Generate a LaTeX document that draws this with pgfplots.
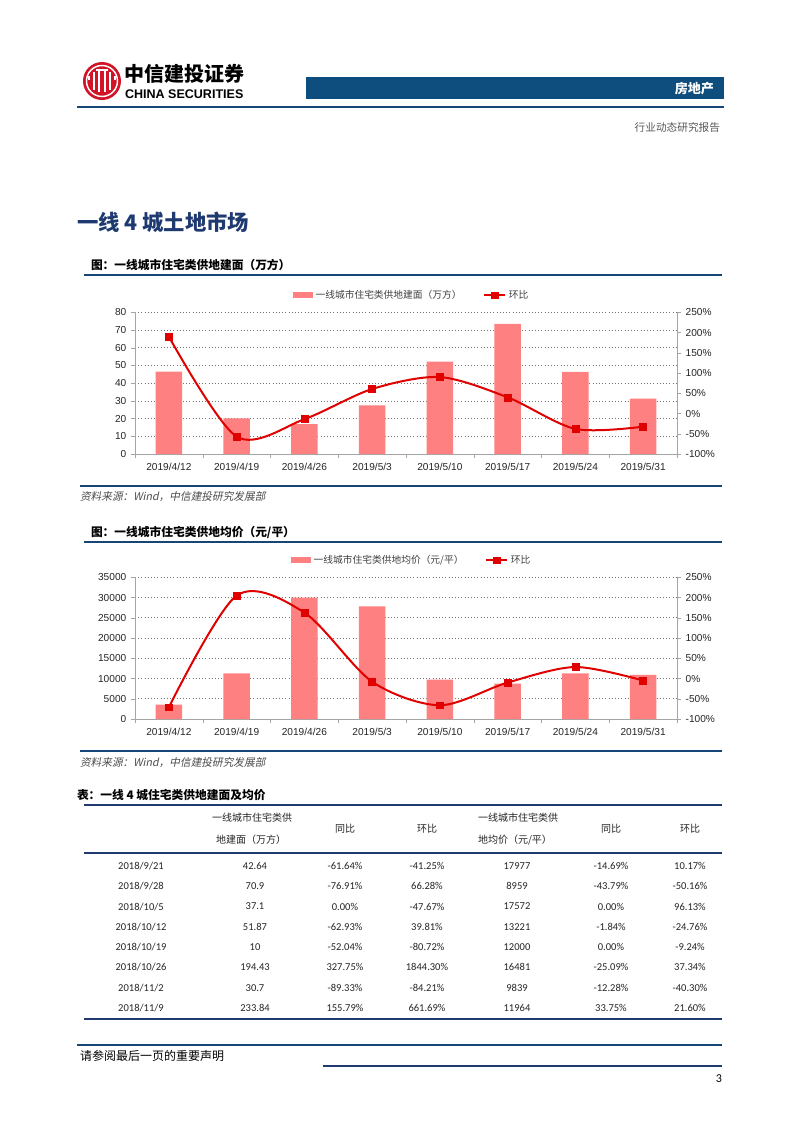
\documentclass[border=0pt]{standalone}
\usepackage{pgfplots}
\pgfplotsset{compat=1.18}
\usepackage{fontspec}
\setmainfont{Liberation Sans}
\newfontfamily\cjk{Noto Sans CJK SC}
\newfontfamily\cjkit[FakeSlant=0.2]{Noto Sans CJK SC}
\newfontfamily\carl{Carlito}
\definecolor{navy}{RGB}{30,58,112}
\definecolor{hdrblue}{RGB}{14,78,126}
\definecolor{rulebl}{RGB}{22,70,120}
\definecolor{barc}{RGB}{255,128,128}
\definecolor{linec}{RGB}{225,0,0}
\definecolor{axgray}{RGB}{165,165,165}
\definecolor{logored}{RGB}{210,20,40}
\pgfplotsset{
  pagechart/.style={
    scale only axis, width=406.5pt, height=106.3pt,
    xmin=-0.5, xmax=7.5,
    axis line style={draw=axgray},
    tick style={draw=axgray},
    tick align=outside,
    major tick length=3pt, minor tick length=3pt,
    ticklabel style={font=\fontsize{7.6}{9}\selectfont, text=black!85},
    scaled y ticks=false,
    /pgf/number format/assume math mode=true,
    /pgf/number format/1000 sep={},
  },
  leftchart/.style={
    pagechart, ybar, bar width=20pt,
    axis y line*=left, axis x line*=bottom,
    ymajorgrids, grid style={draw=black!55, dotted, line width=0.5pt},
    xtick={0,...,7},
    xticklabels={2019/4/12,2019/4/19,2019/4/26,2019/5/3,2019/5/10,2019/5/17,2019/5/24,2019/5/31},
    major x tick style={draw=none},
    minor xtick={-0.5,0.5,...,7.5},
    legend style={at={(0.5,1)}, anchor=center, xshift=4.5pt, yshift=12.75pt, draw=none, fill=none,
      legend columns=2, font=\cjk\fontsize{7.3}{8}\selectfont, text=black!75,
      /tikz/every even column/.append style={column sep=14pt}},
  },
  rightchart/.style={
    pagechart, ymin=-100, ymax=250, ytick distance=50,
    axis y line*=right, axis x line=none, xtick=\empty,
    yticklabel={\pgfmathprintnumber{\tick}\%},
  },
  barleg/.style={legend image code/.code={\fill[barc] (0pt,-2.4pt) rectangle (15pt,2.4pt);}},
  lineleg/.style={legend image code/.code={\draw[linec,line width=1.5pt] (0pt,0pt) -- (16pt,0pt);\fill[linec] (5.5pt,-2.6pt) rectangle (10.5pt,2.6pt);}},
}
\newcommand{\trow}[8]{%
  \node[t] at (141,#1) {#2};
  \node[t] at (255,#1) {#3};
  \node[t] at (345,#1) {#4};
  \node[t] at (427,#1) {#5};
  \node[t] at (517,#1) {#6};
  \node[t] at (611,#1) {#7};
  \node[t] at (690,#1) {#8};
}
\begin{document}
\begin{tikzpicture}[x=0.75pt,y=-0.75pt, t/.style={inner sep=0pt, outer sep=0pt}]
\fill[white] (0,0) rectangle (802,1133);

% ---------- header ----------
\fill[logored] (102,81) circle (19);
\draw[white, line width=1.1pt] (102,81) circle (15.5);
\begin{scope}[white, line width=1.6pt]
  \draw (94,72) -- (94,90);
  \draw (110,72) -- (110,90);
  \draw (99,70) -- (99,92);
  \draw (105,70) -- (105,92);
  \draw (89,76) arc (200:160:6);
  \draw (115,76) arc (-20:20:6);
  \draw (96,70) -- (108,70);
\end{scope}
\node[t, anchor=west, font=\cjk\bfseries\fontsize{15}{16}\selectfont] at (124,74) {中信建投证券};
\node[t, anchor=west, font=\bfseries\fontsize{9.4}{10}\selectfont] at (125,94) {CHINA SECURITIES};
\fill[hdrblue] (306,77) rectangle (724,99);
\node[t, anchor=east, text=white, font=\cjk\bfseries\fontsize{9.8}{10}\selectfont] at (714,89) {房地产};
\draw[rulebl, line width=1.1pt] (77,107) -- (724,107);
\node[t, anchor=east, text=black!65, font=\cjk\fontsize{8}{9}\selectfont] at (720,127) {行业动态研究报告};

% ---------- title ----------
\node[t, anchor=west, text=navy, font=\cjk\bfseries\fontsize{16}{18}\selectfont] at (77,222) {一线 4 城土地市场};

% ---------- chart 1 ----------
\node[t, anchor=west, font=\cjk\bfseries\fontsize{8.8}{10}\selectfont] at (91,265) {图：一线城市住宅类供地建面（万方）};
\draw[rulebl, line width=1.5pt] (84,275) -- (722,275);

\begin{axis}[leftchart, at={(101.25pt,-340.5pt)}, anchor=south west,
  ymin=0, ymax=80, ytick distance=10]
\addplot[fill=barc, draw=none, barleg] coordinates {
  (0,46.5) (1,20.1) (2,16.9) (3,27.5) (4,52.2) (5,73.4) (6,46.3) (7,31.3)};
\addlegendentry{一线城市住宅类供地建面（万方）}
\addlegendimage{lineleg}
\addlegendentry{环比}
\end{axis}
\begin{axis}[rightchart, at={(101.25pt,-340.5pt)}, anchor=south west]
\addplot[linec, line width=1.5pt, smooth, mark=square*, mark size=2.6pt,
  mark options={fill=linec, draw=linec, line width=0.4pt}] coordinates {
  (0,190) (1,-57) (2,-14) (3,60.5) (4,90) (5,40) (6,-38) (7,-32.5)};
\end{axis}

\draw[rulebl, line width=1.1pt] (80,486) -- (722,486);
\node[t, anchor=west, text=black!70, font=\cjkit\fontsize{8}{9}\selectfont] at (80,497) {资料来源：Wind，中信建投研究发展部};

% ---------- chart 2 ----------
\node[t, anchor=west, font=\cjk\bfseries\fontsize{8.8}{10}\selectfont] at (91,532) {图：一线城市住宅类供地均价（元/平）};
\draw[rulebl, line width=1.5pt] (84,542) -- (722,542);

\begin{axis}[leftchart, at={(101.25pt,-539.25pt)}, anchor=south west,
  ymin=0, ymax=35000, ytick distance=5000]
\addplot[fill=barc, draw=none, barleg] coordinates {
  (0,3540) (1,11300) (2,29980) (3,27840) (4,9720) (5,8730) (6,11300) (7,10870)};
\addlegendentry{一线城市住宅类供地均价（元/平）}
\addlegendimage{lineleg}
\addlegendentry{环比}
\end{axis}
\begin{axis}[rightchart, at={(101.25pt,-539.25pt)}, anchor=south west]
\addplot[linec, line width=1.5pt, smooth, mark=square*, mark size=2.6pt,
  mark options={fill=linec, draw=linec, line width=0.4pt}] coordinates {
  (0,-71) (1,204.7) (2,162.7) (3,-7.8) (4,-66) (5,-10) (6,28.4) (7,-5)};
\end{axis}

\draw[rulebl, line width=1.1pt] (80,751) -- (722,751);
\node[t, anchor=west, text=black!70, font=\cjkit\fontsize{8}{9}\selectfont] at (80,763) {资料来源：Wind，中信建投研究发展部};

% ---------- table ----------
\node[t, anchor=west, font=\cjk\bfseries\fontsize{8.8}{10}\selectfont] at (77,795) {表：一线 4 城住宅类供地建面及均价};
\draw[navy, line width=1.8pt] (84,805) -- (722,805);
\begin{scope}[font=\cjk\fontsize{7.5}{9}\selectfont, text=black!85]
  \node[t, anchor=west] at (212,818) {一线城市住宅类供};
  \node[t, anchor=west] at (216,840) {地建面（万方）};
  \node[t] at (345,829) {同比};
  \node[t] at (427,829) {环比};
  \node[t, anchor=west] at (478,818) {一线城市住宅类供};
  \node[t, anchor=west] at (478,840) {地均价（元/平）};
  \node[t] at (611,829) {同比};
  \node[t] at (690,829) {环比};
\end{scope}
\draw[navy, line width=1.8pt] (84,853) -- (722,853);
\begin{scope}[font=\carl\fontsize{7.9}{9}\selectfont, text=black!85]
  \trow{866}{2018/9/21}{42.64}{-61.64\%}{-41.25\%}{17977}{-14.69\%}{10.17\%}
  \trow{886.3}{2018/9/28}{70.9}{-76.91\%}{66.28\%}{8959}{-43.79\%}{-50.16\%}
  \trow{906.6}{2018/10/5}{37.1}{0.00\%}{-47.67\%}{17572}{0.00\%}{96.13\%}
  \trow{926.9}{2018/10/12}{51.87}{-62.93\%}{39.81\%}{13221}{-1.84\%}{-24.76\%}
  \trow{947.1}{2018/10/19}{10}{-52.04\%}{-80.72\%}{12000}{0.00\%}{-9.24\%}
  \trow{967.4}{2018/10/26}{194.43}{327.75\%}{1844.30\%}{16481}{-25.09\%}{37.34\%}
  \trow{987.7}{2018/11/2}{30.7}{-89.33\%}{-84.21\%}{9839}{-12.28\%}{-40.30\%}
  \trow{1008}{2018/11/9}{233.84}{155.79\%}{661.69\%}{11964}{33.75\%}{21.60\%}
\end{scope}
\draw[navy, line width=1.8pt] (84,1019) -- (722,1019);

% ---------- footer ----------
\draw[rulebl, line width=0.8pt] (77,1045) -- (722,1045);
\node[t, anchor=west, font=\cjk\fontsize{9}{10}\selectfont] at (80,1056) {请参阅最后一页的重要声明};
\draw[navy, line width=2pt] (323,1066) -- (722,1066);
\node[t, anchor=east, font=\carl\fontsize{9}{10}\selectfont] at (722,1079) {3};
\end{tikzpicture}
\end{document}
